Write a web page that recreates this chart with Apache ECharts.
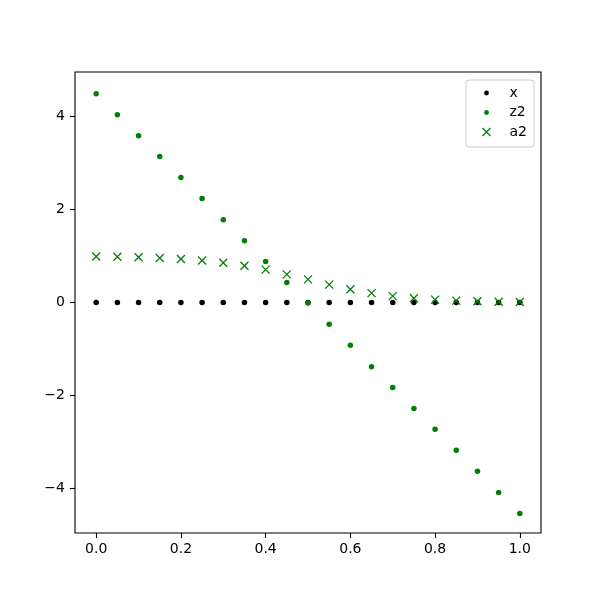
<!DOCTYPE html>
<html>
<head>
<meta charset="utf-8">
<script src="https://cdn.jsdelivr.net/npm/echarts@6/dist/echarts.min.js"></script>
<style>html,body{margin:0;padding:0;background:#fff}#c{width:600px;height:600px}</style>
</head>
<body>
<div id="c"></div>
<script>
var xs = [0.0,0.05,0.1,0.15,0.2,0.25,0.3,0.35,0.4,0.45,0.5,0.55,0.6,0.65,0.7,0.75,0.8,0.85,0.9,0.95,1.0];
var xVals = [0,0,0,0,0,0,0,0,0,0,0,0,0,0,0,0,0,0,0,0,0];
var z2 = [4.49,4.04,3.59,3.14,2.69,2.24,1.78,1.33,0.88,0.43,-0.01,-0.47,-0.92,-1.38,-1.83,-2.28,-2.73,-3.18,-3.63,-4.09,-4.54];
var a2 = [0.989,0.983,0.973,0.959,0.937,0.904,0.856,0.791,0.707,0.606,0.498,0.385,0.285,0.201,0.138,0.093,0.061,0.040,0.026,0.016,0.011];
var xTicks = [0.0,0.2,0.4,0.6,0.8,1.0];
var yTicks = [-4,-2,0,2,4];
var names = ['x','z2','a2'];

function pairs(ys){ return xs.map(function(x,i){ return [x, ys[i]]; }); }

var dotPath = 'path://M0,0M10,10M5,2A3,3 0 1 1 5,8A3,3 0 1 1 5,2Z';
var xPath = 'path://M0,0L10,10M10,0L0,10';
var font = 'DejaVu Sans';

var chart = echarts.init(document.getElementById('c'), null, {renderer:'canvas'});
chart.setOption({
  animation: false,
  backgroundColor: '#fff',
  grid: {left:75, right:59, top:72, bottom:67, show:true, borderColor:'#000', borderWidth:1.1, backgroundColor:'transparent'},
  xAxis: {
    type:'value', min:-0.05, max:1.05,
    axisLine:{show:false, onZero:false}, splitLine:{show:false},
    axisTick:{show:true, inside:false, length:5, lineStyle:{color:'#000', width:1.1}, customValues: xTicks},
    axisLabel:{show:true, customValues: xTicks, margin:9, color:'#000', fontSize:14, fontFamily:font,
      formatter:function(v){ return v.toFixed(1); }}
  },
  yAxis: {
    type:'value', min:-4.96, max:4.96,
    axisLine:{show:false, onZero:false}, splitLine:{show:false},
    axisTick:{show:true, inside:false, length:5, lineStyle:{color:'#000', width:1.1}, customValues: yTicks},
    axisLabel:{show:true, customValues: yTicks, margin:10, color:'#000', fontSize:14, fontFamily:font,
      formatter:function(v){ return String(v).replace('-', '\u2212'); }}
  },
  legend: {
    orient:'vertical', right:66, top:80,
    padding:[6,7,8,14], itemGap:5.5, itemWidth:8, itemHeight:8,
    borderColor:'#cccccc', borderWidth:1, borderRadius:3, backgroundColor:'rgba(255,255,255,0.8)',
    textStyle:{fontSize:14, fontFamily:font, color:'#000', lineHeight:14, padding:[0,0,0,14]},
    data:[
      {name:'x', icon:dotPath, itemStyle:{color:'#000'}},
      {name:'z2', icon:dotPath, itemStyle:{color:'#008000'}},
      {name:'a2', icon:xPath, itemStyle:{color:'none', borderColor:'#008000', borderWidth:1.3}}
    ]
  },
  series: [
    {name:names[0], type:'scatter', data:pairs(xVals), symbol:'circle', symbolSize:5.5, itemStyle:{color:'#000', opacity:1}},
    {name:names[1], type:'scatter', data:pairs(z2), symbol:'circle', symbolSize:5.5, itemStyle:{color:'#008000', opacity:1}},
    {name:names[2], type:'scatter', data:pairs(a2), symbol:xPath, symbolSize:8, itemStyle:{color:'none', borderColor:'#008000', borderWidth:1.3, opacity:1}}
  ]
});
</script>
</body>
</html>
